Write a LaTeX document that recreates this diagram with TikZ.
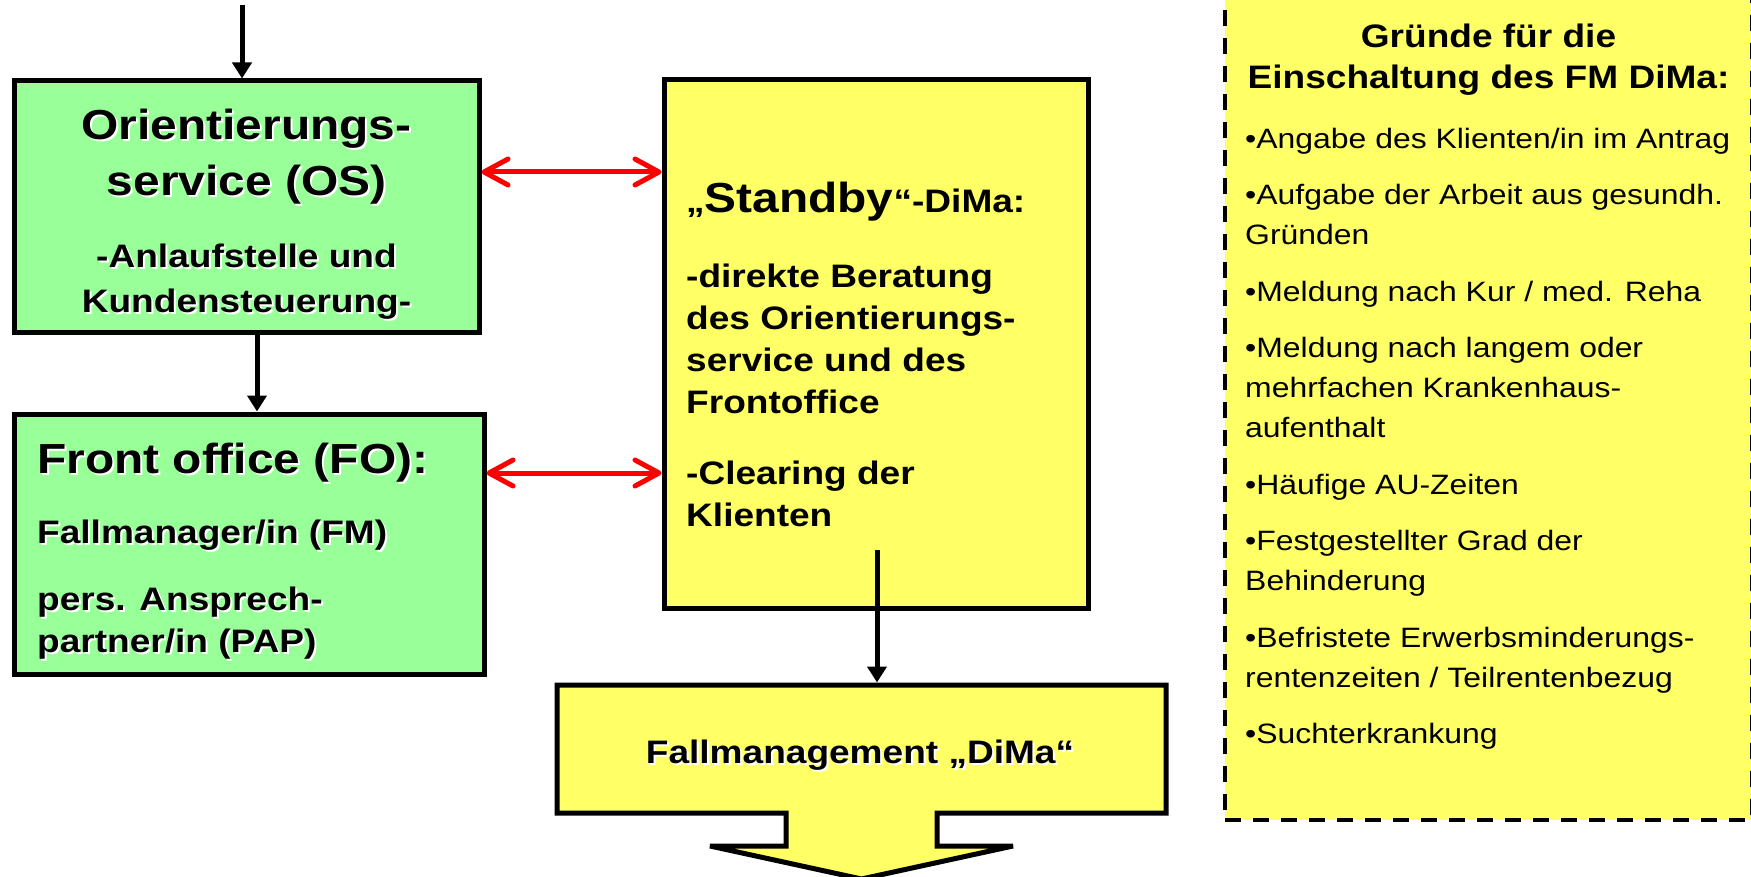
\documentclass[tikz,border=0pt]{standalone}
\usepackage{fontspec}
\setmainfont{Liberation Sans}[FakeStretch=1.14]
\usetikzlibrary{arrows.meta, calc}

\definecolor{osgreen}{HTML}{99FF99}
\definecolor{dimayellow}{HTML}{FFFF66}
\newcommand{\shadowed}[1]{\makebox[0pt][l]{\kern2pt\raisebox{-2pt}{\color{white}#1}}#1}

\begin{document}
\begin{tikzpicture}[
    x=1pt, y=-1pt,
    outline/.style={draw=black, line width=5pt},
    flowbox/.style={rectangle, outline, inner sep=0pt},
    greenbox/.style={flowbox, fill=osgreen},
    yellowbox/.style={flowbox, fill=dimayellow},
    bigtext/.style={font=\fontsize{42}{56}\selectfont\bfseries, inner sep=0pt},
    boldtext/.style={font=\fontsize{32.5}{44}\selectfont\bfseries, inner sep=0pt},
    plaintext/.style={font=\fontsize{28}{40}\selectfont, inner sep=0pt},
    flowarrow/.style={-{Triangle[length=16pt, width=19pt]}, line width=5pt},
    linkarrow/.style={{Straight Barb[length=24pt, width=26pt, round]}-{Straight Barb[length=24pt, width=26pt, round]}, line width=5pt, red},
]
\useasboundingbox (0,0) rectangle (1751,877);

\node[greenbox, minimum width=465pt, minimum height=252pt] (os) at (246.5,207) {};
\node[greenbox, minimum width=470pt, minimum height=260pt] (fo) at (249,544) {};
\node[yellowbox, minimum width=424pt, minimum height=528pt] (standby) at (876,344) {};
\node[yellowbox, line width=4.3pt, dash pattern=on 16pt off 12pt, minimum width=527pt, minimum height=830pt] (reasons) at (1488.5,405) {};
\node[minimum width=609pt, minimum height=128pt, inner sep=0pt, outer sep=0pt] (fm) at (861.5,749) {};
\draw[outline, fill=dimayellow, miter limit=4] (fm.north west) -- (fm.north east) -- (fm.south east)
    -- ($(fm.south)+(75.5,0)$) -- ++(0,33) -- ++(76,0) -- ($(fm.south)+(0,66)$)
    -- ($(fm.south)+(-151.5,33)$) -- ++(76,0) -- ++(0,-33) -- (fm.south west) -- cycle;

\node[bigtext, align=center, anchor=north] (os-title) at (246.5,109.3) {\shadowed{Orientierungs-}\\\shadowed{service (OS)}};
\node[boldtext, font=\fontsize{32.5}{45}\selectfont\bfseries, align=center, anchor=north] (os-text) at (246.5,243.6) {\shadowed{-Anlaufstelle und}\\\shadowed{Kundensteuerung-}};

\node[bigtext, anchor=base west] (fo-title) at (37,473) {\shadowed{Front office (FO):}};
\node[boldtext, font=\fontsize{32.5}{42}\selectfont\bfseries, align=left, anchor=north west] (fo-text) at (37,519.3) {\shadowed{Fallmanager/in (FM)}\\[25pt]\shadowed{pers. Ansprech-}\\\shadowed{partner/in (PAP)}};

\node[bigtext, anchor=base west] (sb-title) at (686,213) {{\fontsize{32.5}{40}\selectfont „}Standby{\fontsize{32.5}{40}\selectfont “-DiMa:}};
\node[boldtext, font=\fontsize{32.5}{42}\selectfont\bfseries, align=left, anchor=north west] (sb-text) at (686,263.7) {-direkte Beratung\\des Orientierungs-\\service und des\\Frontoffice\\[29pt]-Clearing der\\Klienten};

\node[boldtext, anchor=base] (fm-text) at (860,763) {\shadowed{Fallmanagement „DiMa“}};

\node[boldtext, font=\fontsize{32.5}{41}\selectfont\bfseries, align=center, anchor=north] (why-title) at (1488.5,23.3) {Gründe für die\\Einschaltung des FM DiMa:};
\node[plaintext, align=left, anchor=north west] (why-list) at (1245,127.8) {•Angabe des Klienten/in im Antrag\\[16.5pt]•Aufgabe der Arbeit aus gesundh.\\Gründen\\[16.5pt]•Meldung nach Kur / med. Reha\\[16.5pt]•Meldung nach langem oder\\mehrfachen Krankenhaus-\\aufenthalt\\[16.5pt]•Häufige AU-Zeiten\\[16.5pt]•Festgestellter Grad der\\Behinderung\\[16.5pt]•Befristete Erwerbsminderungs-\\rentenzeiten / Teilrentenbezug\\[16.5pt]•Suchterkrankung};

\coordinate (entry) at (242,5);
\coordinate (osout) at ($(os.south)+(10.5,0)$);
\coordinate (sbout) at (877,550);
\draw[flowarrow] (entry) -- (entry |- os.north);
\draw[flowarrow] (osout) -- (osout |- fo.north);
\draw[flowarrow, shorten >=2.5pt] (sbout) -- (sbout |- fm.north);
\draw[linkarrow] (os.east |- 0,172) -- (standby.west |- 0,172);
\draw[linkarrow] (fo.east |- 0,473) -- (standby.west |- 0,473);
\end{tikzpicture}
\end{document}
